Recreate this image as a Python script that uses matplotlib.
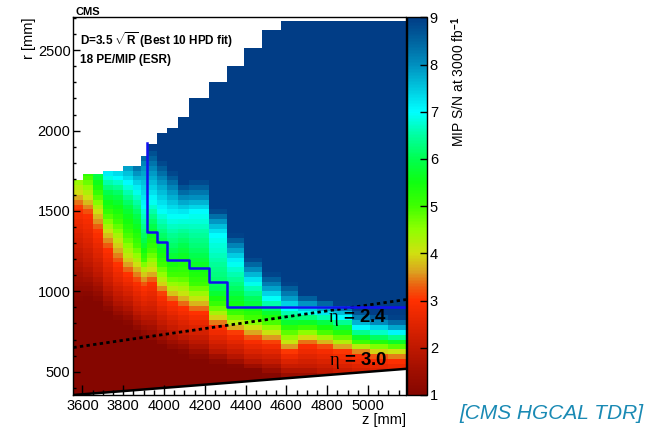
import numpy as np
import matplotlib
matplotlib.use("Agg")
import matplotlib.pyplot as plt
from matplotlib.colors import LinearSegmentedColormap
from matplotlib.ticker import MultipleLocator

plt.rcParams['font.family'] = ['Liberation Sans', 'DejaVu Sans']
plt.rcParams['mathtext.fontset'] = 'custom'
plt.rcParams['mathtext.rm'] = 'Liberation Sans:bold'
plt.rcParams['mathtext.bf'] = 'Liberation Sans:bold'
plt.rcParams['mathtext.it'] = 'Liberation Serif'

# --- data ------------------------------------------------------------------
# z bin edges of the columns [mm]
z_edges = [3555, 3601, 3650, 3702, 3751, 3800, 3849, 3889, 3918, 3967, 4016, 4066,
           4122, 4220, 4308, 4394, 4482, 4572, 4659, 4748, 4830, 4920, 5010, 5099, 5186]

# outer radius of the filled area in each column [mm]
r_top = [1692, 1728, 1728, 1750, 1750, 1781, 1781, 1843, 1914, 1983, 2014, 2082,
         2200, 2303, 2403, 2511, 2625, 2683, 2683, 2683, 2683, 2683, 2683, 2683]

# S/N levels and, per column, the radius [mm] where each level is reached
sn_levels = [1, 2, 3, 4, 5, 6, 7, 8, 9]
r_at_level = [
    [946, 1230, 1517, 1618, 1754, 1817, 1879, 1941, 2003],
    [960, 1170, 1475, 1580, 1711, 1785, 1848, 1910, 1972],
    [930, 1110, 1369, 1493, 1599, 1729, 1804, 1879, 1941],
    [870, 1020, 1257, 1369, 1475, 1618, 1723, 1817, 1879],
    [820, 960, 1164, 1300, 1431, 1599, 1705, 1804, 1866],
    [790, 930, 1102, 1207, 1350, 1537, 1673, 1785, 1848],
    [745, 870, 1058, 1164, 1288, 1475, 1630, 1742, 1829],
    [715, 840, 1021, 1120, 1195, 1319, 1537, 1785, 1879],
    [685, 840, 1052, 1132, 1257, 1412, 1568, 1754, 1891],
    [655, 790, 977, 1052, 1164, 1319, 1506, 1692, 1817],
    [625, 750, 933, 996, 1102, 1257, 1475, 1630, 1754],
    [612, 720, 896, 977, 1102, 1288, 1475, 1580, 1673],
    [575, 690, 865, 946, 1039, 1226, 1493, 1586, 1692],
    [552, 635, 778, 840, 915, 1008, 1350, 1443, 1506],
    [528, 605, 741, 791, 853, 996, 1182, 1275, 1350],
    [503, 575, 698, 772, 834, 946, 1058, 1132, 1207],
    [472, 560, 679, 741, 809, 884, 958, 1027, 1114],
    [442, 520, 623, 679, 760, 822, 896, 965, 1052],
    [442, 520, 666, 716, 772, 822, 871, 927, 977],
    [412, 505, 647, 698, 747, 809, 853, 908, 946],
    [382, 480, 623, 672, 728, 784, 834, 884, 927],
    [370, 462, 604, 647, 685, 728, 772, 822, 884],
    [352, 445, 585, 629, 672, 710, 760, 803, 853],
    [334, 432, 573, 623, 660, 698, 741, 784, 840],
]

# scintillator / silicon boundary (blue step line)
boundary_z = [3918, 3918, 3967, 4016, 4122, 4220, 4308, 5186]
boundary_r = [1922, 1371, 1308, 1195, 1147, 1056, 904, 904]

eta_values = [2.4, 3.0]

# palette sampled from the colour bar
pal_vals = [1.0, 1.5, 2.0, 2.5, 3.0, 3.3, 3.6, 4.0, 4.5, 5.0, 5.5, 6.0, 6.5, 7.0, 7.5, 8.0, 8.5, 9.0]
pal_cols = ['#850600', '#a00e00', '#c01800', '#e02400', '#ff3000', '#ec6010', '#dca020',
            '#d0e010', '#90ff00', '#40ff00', '#10ff10', '#00ff50', '#00ffa0', '#00ffff',
            '#00c8e0', '#0090c0', '#0064a0', '#013d86']

# -------------------------------------------------------------------------
cmap = LinearSegmentedColormap.from_list(
    'snpal', [((v - 1) / 8.0, c) for v, c in zip(pal_vals, pal_cols)], N=256)


def eta_r(z, eta):
    return np.asarray(z) * np.tan(2 * np.arctan(np.exp(-eta)))


fig = plt.figure(figsize=(6.5, 4.29), dpi=100)
ax = fig.add_axes([0.1128, 0.0793, 0.5118, 0.8804])
cax = fig.add_axes([0.6265, 0.0793, 0.0305, 0.8804])

r_grid = np.arange(340, 2730, 30)
mesh = None
for i in range(len(z_edges) - 1):
    z0, z1 = z_edges[i], z_edges[i + 1]
    r_lo = float(eta_r(0.5 * (z0 + z1), 3.0))
    edges = np.clip(r_grid, r_lo, r_top[i])
    centers = 0.5 * (edges[1:] + edges[:-1])
    vals = np.interp(centers, r_at_level[i], sn_levels)
    mesh = ax.pcolormesh([z0, z1], edges, vals[:, None], cmap=cmap, vmin=1, vmax=9,
                         shading='flat', edgecolors='none', antialiased=False, linewidth=0)

zz = np.array([z_edges[0], z_edges[-1]])
ax.plot(zz, eta_r(zz, eta_values[0]), color='black', lw=2.0, linestyle=(0, (1.2, 1.2)))
ax.plot(zz, eta_r(zz, eta_values[1]), color='black', lw=1.8)
ax.plot(boundary_z, boundary_r, color='#1010f0', lw=1.8, drawstyle='steps-post')

ax.set_xlim(z_edges[0], z_edges[-1])
ax.set_ylim(355, 2705)
ax.xaxis.set_major_locator(MultipleLocator(200))
ax.xaxis.set_minor_locator(MultipleLocator(50))
ax.yaxis.set_major_locator(MultipleLocator(500))
ax.yaxis.set_minor_locator(MultipleLocator(100))
ax.tick_params(axis='x', which='major', direction='in', length=7, width=1, labelsize=10.5, pad=3)
ax.tick_params(axis='x', which='minor', direction='in', length=3.5, width=1)
ax.tick_params(axis='y', which='major', direction='in', length=5, width=1, labelsize=10.5, pad=2)
ax.tick_params(axis='y', which='minor', direction='in', length=2.5, width=1)
for s in ax.spines.values():
    s.set_linewidth(1)

ax.set_xlabel('z [mm]', fontsize=10.5, loc='right', labelpad=0)
ax.set_ylabel('r [mm]', fontsize=10.5, loc='top', labelpad=1)

ax.text(3590, 2560, r'D=3.5 $\sqrt{\mathrm{R}}$ (Best 10 HPD fit)', fontsize=8.5,
        fontweight='bold', va='center')
ax.text(3590, 2440, '18 PE/MIP (ESR)', fontsize=8.5, fontweight='bold', va='center')
ax.text(4950, 840, r'$\eta$ = 2.4', fontsize=13.5, fontweight='bold', ha='center', va='center')
ax.text(4950, 567, r'$\eta$ = 3.0', fontsize=13.5, fontweight='bold', ha='center', va='center')

fig.text(0.1155, 0.972, 'CMS', fontsize=8, fontweight='bold', va='center')

cb = fig.colorbar(mesh, cax=cax, ticks=sn_levels)
cb.outline.set_linewidth(1)
cax.tick_params(direction='in', length=5, width=1, labelsize=10.5, pad=2)
cb.set_label(r'MIP S/N at 3000 fb$^{-1}$', fontsize=10, loc='top', labelpad=8)

fig.text(0.99, 0.035, '[CMS HGCAL TDR]', fontsize=15, style='italic', color='#1a8ab4',
         ha='right', va='center')

fig.savefig('out.png', dpi=100)
